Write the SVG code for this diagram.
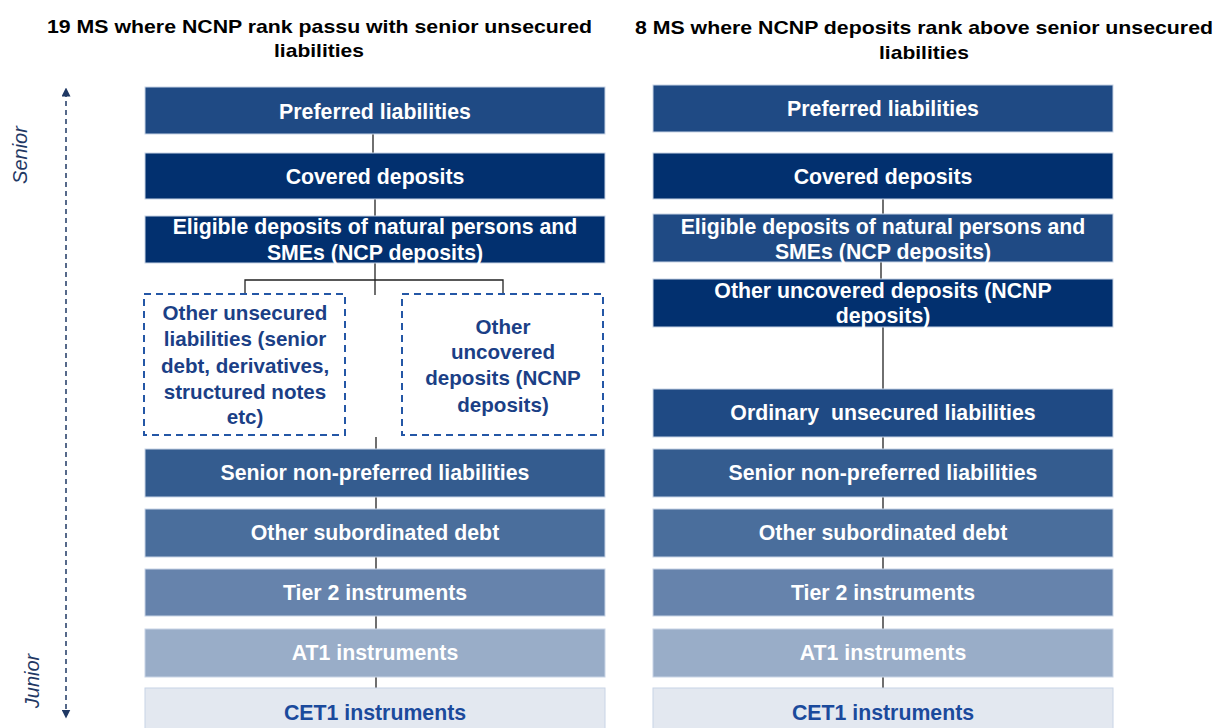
<svg xmlns="http://www.w3.org/2000/svg" width="1217" height="728" viewBox="0 0 1217 728">
<style>
text{font-family:"Liberation Sans",Arial,sans-serif;font-weight:bold;text-anchor:middle}
.t{font-size:19px;fill:#000}
.w{font-size:21.3px;fill:#fff}
.d{font-size:20.6px;fill:#1B3F86}
.c{font-size:21.3px;fill:#1B4A9C}
.ax{font-size:20px;font-weight:normal;font-style:italic;fill:#1F3864}
.b{stroke:#C8D4E6;stroke-width:1}
.p{fill:#1F4A84}.cv{fill:#02306F}.snp{fill:#345C8F}.os{fill:#4A6E9C}.t2{fill:#6683AC}.a1{fill:#99ADC8}.ce{fill:#E3E8F0}
.dash{fill:#fff;stroke:#2457A6;stroke-width:2;stroke-dasharray:7 5}
.ln{stroke:#222;stroke-width:1.3;fill:none}
</style>
<defs>
<marker id="ah" viewBox="0 0 10 10" refX="5" refY="5" markerWidth="9" markerHeight="9" orient="auto-start-reverse" markerUnits="userSpaceOnUse">
<path d="M0,0 L10,5 L0,10 z" fill="#1F3864"/>
</marker>
</defs>
<rect width="1217" height="728" fill="#fff"/>
<g id="titles">
<text class="t" x="319.5" y="33" textLength="545" lengthAdjust="spacingAndGlyphs">19 MS where NCNP rank passu with senior unsecured</text>
<text class="t" x="319" y="57" textLength="90" lengthAdjust="spacingAndGlyphs">liabilities</text>
<text class="t" x="924" y="34" textLength="578" lengthAdjust="spacingAndGlyphs">8 MS where NCNP deposits rank above senior unsecured</text>
<text class="t" x="924" y="59" textLength="90" lengthAdjust="spacingAndGlyphs">liabilities</text>
</g>
<g id="axis">
<line x1="66" y1="92" x2="66" y2="714" stroke="#1F3864" stroke-width="1.5" stroke-dasharray="5 4" marker-start="url(#ah)" marker-end="url(#ah)"/>
<text class="ax" transform="translate(27,155) rotate(-90)">Senior</text>
<text class="ax" transform="translate(39,681) rotate(-90)">Junior</text>
</g>
<g id="connectors">
<line class="ln" x1="373" y1="134" x2="373" y2="153"/>
<line class="ln" x1="375" y1="199" x2="375" y2="216"/>
<line class="ln" x1="375" y1="263" x2="375" y2="295"/>
<polyline class="ln" points="245,294 245,280 503,280 503,294"/>
<line class="ln" x1="376" y1="437" x2="376" y2="449"/>
<line class="ln" x1="376" y1="497" x2="376" y2="509"/>
<line class="ln" x1="376" y1="557" x2="376" y2="569"/>
<line class="ln" x1="376" y1="616" x2="376" y2="629"/>
<line class="ln" x1="376" y1="677" x2="376" y2="688"/>
<line class="ln" x1="883" y1="199" x2="883" y2="214"/>
<line class="ln" x1="881" y1="262" x2="881" y2="279"/>
<line class="ln" x1="883" y1="327" x2="883" y2="389"/>
<line class="ln" x1="883" y1="437" x2="883" y2="449"/>
<line class="ln" x1="883" y1="497" x2="883" y2="509"/>
<line class="ln" x1="883" y1="557" x2="883" y2="569"/>
<line class="ln" x1="883" y1="616" x2="883" y2="629"/>
<line class="ln" x1="883" y1="677" x2="883" y2="688"/>
</g>
<g id="L-preferred"><rect class="b p" x="145" y="87" width="460" height="47"/><text class="w" x="375" y="119">Preferred liabilities</text></g>
<g id="L-covered"><rect class="b cv" x="145" y="153" width="460" height="46"/><text class="w" x="375" y="184">Covered deposits</text></g>
<g id="L-eligible"><rect class="b cv" x="145" y="216" width="460" height="47"/><text class="w" x="375" y="234">Eligible deposits of natural persons and</text><text class="w" x="375" y="260">SMEs (NCP deposits)</text></g>
<g id="L-other-unsecured"><rect class="dash" x="144" y="294" width="201" height="141"/>
<text class="d" x="245" y="320">Other unsecured</text><text class="d" x="245" y="346">liabilities (senior</text><text class="d" x="245" y="373">debt, derivatives,</text><text class="d" x="245" y="399">structured notes</text><text class="d" x="245" y="424">etc)</text></g>
<g id="L-other-uncovered"><rect class="dash" x="402" y="294" width="201" height="141"/>
<text class="d" x="503" y="334">Other</text><text class="d" x="503" y="359">uncovered</text><text class="d" x="503" y="385">deposits (NCNP</text><text class="d" x="503" y="412">deposits)</text></g>
<g id="L-snp"><rect class="b snp" x="145" y="449" width="460" height="48"/><text class="w" x="375" y="480">Senior non-preferred liabilities</text></g>
<g id="L-subdebt"><rect class="b os" x="145" y="509" width="460" height="48"/><text class="w" x="375" y="540">Other subordinated debt</text></g>
<g id="L-tier2"><rect class="b t2" x="145" y="569" width="460" height="47"/><text class="w" x="375" y="600">Tier 2 instruments</text></g>
<g id="L-at1"><rect class="b a1" x="145" y="629" width="460" height="48"/><text class="w" x="375" y="660">AT1 instruments</text></g>
<g id="L-cet1"><rect class="b ce" x="145" y="688" width="460" height="45"/><text class="c" x="375" y="720">CET1 instruments</text></g>
<g id="R-preferred"><rect class="b p" x="653" y="85" width="460" height="47"/><text class="w" x="883" y="116">Preferred liabilities</text></g>
<g id="R-covered"><rect class="b cv" x="653" y="153" width="460" height="46"/><text class="w" x="883" y="184">Covered deposits</text></g>
<g id="R-eligible"><rect class="b p" x="653" y="214" width="460" height="48"/><text class="w" x="883" y="234">Eligible deposits of natural persons and</text><text class="w" x="883" y="259">SMEs (NCP deposits)</text></g>
<g id="R-other-uncovered"><rect class="b cv" x="653" y="279" width="460" height="48"/><text class="w" x="883" y="298">Other uncovered deposits (NCNP</text><text class="w" x="883" y="323">deposits)</text></g>
<g id="R-ordinary"><rect class="b p" x="653" y="389" width="460" height="48"/><text class="w" x="883" y="420" style="white-space:pre">Ordinary  unsecured liabilities</text></g>
<g id="R-snp"><rect class="b snp" x="653" y="449" width="460" height="48"/><text class="w" x="883" y="480">Senior non-preferred liabilities</text></g>
<g id="R-subdebt"><rect class="b os" x="653" y="509" width="460" height="48"/><text class="w" x="883" y="540">Other subordinated debt</text></g>
<g id="R-tier2"><rect class="b t2" x="653" y="569" width="460" height="47"/><text class="w" x="883" y="600">Tier 2 instruments</text></g>
<g id="R-at1"><rect class="b a1" x="653" y="629" width="460" height="48"/><text class="w" x="883" y="660">AT1 instruments</text></g>
<g id="R-cet1"><rect class="b ce" x="653" y="688" width="460" height="45"/><text class="c" x="883" y="720">CET1 instruments</text></g>
</svg>
